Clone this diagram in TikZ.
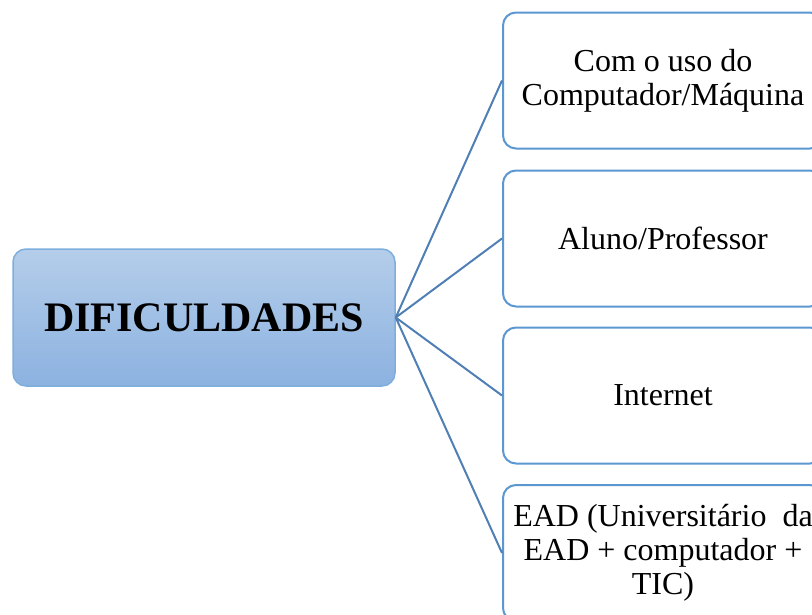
\documentclass[tikz,border=0pt]{standalone}
\usepackage{fontspec}
\setmainfont{Liberation Serif}
\definecolor{mainborder}{HTML}{7EAEDD}
\definecolor{maintop}{HTML}{B4CDEA}
\definecolor{mainbot}{HTML}{8CB2E0}
\definecolor{boxborder}{HTML}{5B97D0}
\definecolor{linkcol}{HTML}{4F7FB5}
\begin{document}
\begin{tikzpicture}[x=1pt,y=-1pt,
  mainbox/.style={draw=mainborder, line width=1.5pt, rounded corners=13pt,
    top color=maintop, bottom color=mainbot, minimum width=382pt, minimum height=137pt,
    inner sep=0pt, font=\fontsize{42}{46}\selectfont\bfseries},
  itembox/.style={draw=boxborder, line width=2pt, rounded corners=13pt, fill=white,
    minimum width=320pt, minimum height=136pt, inner sep=0pt, align=center,
    font=\fontsize{32}{34}\selectfont},
  link/.style={draw=linkcol, line width=2pt}]
\useasboundingbox (0,0) rectangle (812,614);
\clip (0,0) rectangle (812,614);
\node[mainbox] (main) at (204,317.5) {DIFICULDADES};
\node[itembox] (b1) at (663,80.5) {Com o uso do\\Computador/Máquina};
\node[itembox] (b2) at (663,238.5) {Aluno/Professor};
\node[itembox] (b3) at (663,395.5) {Internet};
\node[itembox] (b4) at (663,553) {EAD (Universitário\ \ da\\EAD + computador +\\TIC)};
\foreach \b in {b1,b2,b3,b4} \draw[link] (main.east) -- (\b.west);
\end{tikzpicture}
\end{document}
